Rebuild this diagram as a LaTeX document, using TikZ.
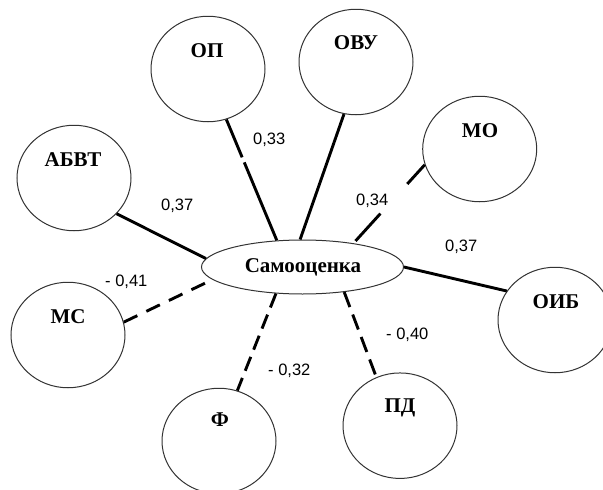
\documentclass[tikz,border=0pt]{standalone}
\usepackage{fontspec}
\setmainfont{Liberation Serif}
\newfontfamily\coeffont{Liberation Sans}
\usetikzlibrary{shapes.geometric}
\begin{document}
\begin{tikzpicture}[x=1pt,y=-1pt,
  circ/.style={ellipse, draw=black!80, line width=1pt, minimum width=114pt, minimum height=105.5pt, inner sep=0pt},
  oval/.style={ellipse, draw=black!80, line width=1pt, minimum width=202pt, minimum height=54pt, inner sep=0pt},
  nm/.style={font=\bfseries\fontsize{21}{22}\selectfont, anchor=base, inner sep=0pt},
  coef/.style={font=\coeffont\fontsize{16.5}{18}\selectfont, anchor=base west, inner sep=0pt},
  conn/.style={line width=2.9pt},
  dsh/.style={conn, dash pattern=on 15pt off 10pt}]
\useasboundingbox (0,0) rectangle (603,490);
% nodes
\node[oval] (self) at (302.5,267) {};
\node[nm] (selft) at (303,272) {Самооценка};
\node[circ] (op) at (208,69) {};
\node[nm] (opt) at (207,57.5) {ОП};
\node[circ] (ovu) at (356,62) {};
\node[nm] (ovut) at (356,49.5) {ОВУ};
\node[circ] (mo) at (479.7,149) {};
\node[nm] (mot) at (480,137.5) {МО};
\node[circ] (abvt) at (74,178) {};
\node[nm] (abvtt) at (73,166) {АБВТ};
\node[circ] (ms) at (68,335) {};
\node[nm] (mst) at (68,323) {МС};
\node[circ] (oib) at (555,320) {};
\node[nm] (oibt) at (556,308.5) {ОИБ};
\node[circ] (f) at (219,441) {};
\node[nm] (ft) at (220,426.5) {Ф};
\node[circ] (pd) at (400,425.7) {};
\node[nm] (pdt) at (400,412.5) {ПД};
% connectors
\draw[conn, dash pattern=on 41pt off 5.5pt on 300pt] (op.-70.5) -- (self.134);
\draw[conn] (ovu.-103.5) -- (self.95.4);
\draw[conn, dash pattern=on 26pt off 40pt on 37pt off 30pt] (mo.-164.2) -- (self.25);
\draw[conn] (abvt.-40.6) -- (self.175.9);
\draw[conn] (oib.149) -- (self.0);
\draw[dsh] (ms.13.5) -- (self.188);
\draw[conn, dash pattern=on 15pt off 7.7pt] (self.225.5) -- (f.70.8);
\draw[conn, dash pattern=on 16pt off 8pt] (self.-31) -- (pd.116.4);
% coefficients
\node[coef] (c1) at (253,144) {0,33};
\node[coef] (c2) at (161,210) {0,37};
\node[coef] (c3) at (356,205.5) {0,34};
\node[coef] (c4) at (445,251) {0,37};
\node[coef] (c5) at (105,286.5) {- 0,41};
\node[coef] (c6) at (268,375) {- 0,32};
\node[coef] (c7) at (386,339) {- 0,40};
\end{tikzpicture}
\end{document}
